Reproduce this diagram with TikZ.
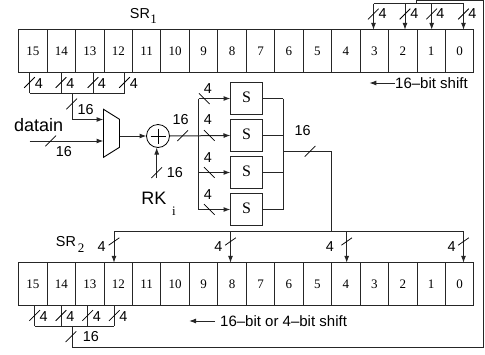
\documentclass[tikz,border=0pt]{standalone}
\usepackage{fontspec}
\setmainfont{Liberation Serif}
\setsansfont{Liberation Sans}
\usetikzlibrary{arrows.meta}
\tikzset{
  wire/.style={line width=1pt,draw=black!85},
  arr/.style={wire,-{Latex[length=7pt,width=5pt]}},
  cell/.style={draw=black!85,line width=1pt,minimum width=28.45pt,minimum height=42.3pt,inner sep=0pt,outer sep=0pt,font=\fontsize{13}{14}\selectfont},
  sbox/.style={draw=black!85,line width=1pt,minimum width=32pt,minimum height=32pt,inner sep=0pt,outer sep=0pt,font=\fontsize{16}{18}\selectfont},
  lab/.style={inner sep=0pt,font=\sffamily\fontsize{14.4}{16}\selectfont},
  biglab/.style={inner sep=0pt,font=\sffamily\fontsize{18}{20}\selectfont},
  srlab/.style={inner sep=0pt,font=\sffamily\fontsize{14.4}{16}\selectfont},
  shiftlab/.style={inner sep=0pt,anchor=west,font=\sffamily\fontsize{15}{17}\selectfont},
  sub/.style={inner sep=0pt,font=\fontsize{13}{15}\selectfont},
  xorc/.style={circle,draw=black,line width=0.8pt,minimum size=23pt,inner sep=0pt,outer sep=0pt},
  muxs/.style={draw=black,line width=0.9pt,line join=miter},
  slashmark/.style={line width=0.75pt,draw=black}
}
\newcommand{\fw}[2]{\draw[slashmark] (#1-5.3,#2+5.3) -- (#1+5.3,#2-5.3);}
\newcommand{\fl}[2]{\draw[slashmark] (#1-5.3,#2+3.7) -- (#1+5.3,#2-3.7);}
\newcommand{\bw}[2]{\draw[slashmark] (#1-5.3,#2-5.3) -- (#1+5.3,#2+5.3);}
\begin{document}
\begin{tikzpicture}[x=1pt,y=-1pt]
\useasboundingbox (0,0) rectangle (485,354);
% registers
\foreach \i in {0,...,15}{
  \node[cell] (a\i) at ({18.7+(15-\i+0.5)*28.45},51) {\i};
  \node[cell] (b\i) at ({18.7+(15-\i+0.5)*28.45},284) {\i};
}
% S boxes
\node[sbox] (s1) at (246.5,98.5) {\raisebox{3.5pt}{S}};
\node[sbox] (s2) at (246.5,135.5) {\raisebox{3.5pt}{S}};
\node[sbox] (s3) at (246.5,172.5) {\raisebox{3.5pt}{S}};
\node[sbox] (s4) at (246.5,209.5) {\raisebox{3.5pt}{S}};
% mux and xor
\draw[muxs] (103.5,109.3) -- (119.5,119.3) -- (119.5,147.3) -- (103.5,157.3) -- cycle;
\coordinate (mout) at (119.5,136);
\coordinate (min1) at (103.5,119.5);
\coordinate (min2) at (103.5,141);
\node[xorc] (x) at (158,136) {};
\draw[line width=0.6pt] (x.west)++(4,0) -- ++(15,0);
\draw[line width=0.6pt] (x.north)++(0,4) -- ++(0,15);
% SR1 top feedback
\coordinate (t0) at (463.5,3.5);
\coordinate (t1) at (431.7,3.5);
\coordinate (t2) at (405,3.5);
\coordinate (t3) at (373.5,3.5);
\coordinate (tapin) at (416,3.5);
\coordinate (topc) at (416,0);
\coordinate (rtc) at (483,0);
\coordinate (rbc) at (483,347);
\coordinate (lbc) at (72,347);
\coordinate (lbt) at (72,326);
\draw[wire] (t3) -- (t0);
\foreach \c/\n in {t0/a0,t1/a1,t2/a2,t3/a3} \draw[arr] (\c) -- (\c |- \n.north);
% return path from SR2 to SR1
\draw[wire] (lbt) -- (lbc) -- (rbc) -- (rtc) -- (topc) -- (tapin);
% SR1 lower taps
\coordinate (u15) at (29.5,93);
\coordinate (u14) at (61,93);
\coordinate (u13) at (93,93);
\coordinate (u12) at (124.5,93);
\coordinate (ujoin) at (72,93);
\draw[wire] (u15) -- (u12);
\draw[wire] (u15 |- a15.south) -- (u15);
\draw[wire] (u14 |- a14.south) -- (u14);
\draw[wire] (u13 |- a13.south) -- (u13);
\draw[wire] (u12 |- a12.south) -- (u12);
\draw[arr] (ujoin) |- (min1);
\coordinate (din) at (29.5,141);
\draw[arr] (din) -- (min2);
\draw[arr] (mout) -- (x.west);
\coordinate (rk) at (156.7,178);
\draw[arr] (rk) -- (rk |- x.south);
% S box bus
\coordinate (bus1) at (198.7,98.5);
\coordinate (bus4) at (198.7,209.5);
\draw[wire] (bus1) -- (bus4);
\draw[arr] (bus1) -- (s1.west);
\draw[arr] (x.east) -- (s2.west);
\draw[arr] (bus1 |- s3.west) -- (s3.west);
\draw[arr] (bus4) -- (s4.west);
% S box outputs
\coordinate (obus) at (283.3,98.5);
\coordinate (obus4) at (283.3,209.5);
\draw[wire] (obus) -- (obus4);
\draw[wire] (s1.east) -- (obus);
\draw[wire] (s2.east) -- (s2.east -| obus);
\draw[wire] (s3.east) -- (s3.east -| obus);
\draw[wire] (s4.east) -- (obus4);
\coordinate (oout) at (283.3,151.3);
\coordinate (down) at (331,231);
\draw[wire] (oout) -| (down);
% SR2 top distribution
\coordinate (d12) at (114,231);
\coordinate (d8) at (230.5,231);
\coordinate (d4) at (346.7,231);
\coordinate (d0) at (463.5,231);
\draw[wire] (d12) -- (d0);
\foreach \c/\n in {d12/b12,d8/b8,d4/b4,d0/b0} \draw[arr] (\c) -- (\c |- \n.north);
% SR2 lower taps
\coordinate (v15) at (34.7,326);
\coordinate (v14) at (61,326);
\coordinate (v13) at (87.7,326);
\coordinate (v12) at (114.3,326);
\draw[wire] (v15) -- (v12);
\draw[wire] (v15 |- b15.south) -- (v15);
\draw[wire] (v14 |- b14.south) -- (v14);
\draw[wire] (v13 |- b13.south) -- (v13);
\draw[wire] (v12 |- b12.south) -- (v12);
% slashes
\foreach \p/\q in {373.3/14,405/14,431.7/14,463.5/14,
  29.5/82.5,61/82.5,93/82.5,124.5/82.5,
  71.7/104,50.7/141,182.7/135.7,156.7/172.7,310/151.3,
  34.7/315.5,61/315.5,87.7/315.5,114.3/315.5,71/336.7}{\fw{\p}{\q}}
\foreach \p/\q in {114/241.5,230.5/241.5,346.7/241.5,463.5/241.5}{\fl{\p}{\q}}
\foreach \p/\q in {204.3/98.7,209.3/135.5,209.3/172.5,209.3/209.5}{\bw{\p}{\q}}
% labels
\node[srlab] (sr1) at (140,14) {SR};
\node[sub] (sr1s) at (153.5,19.5) {1};
\node[srlab] (sr2) at (66,241.5) {SR};
\node[sub] (sr2s) at (81,248) {2};
\foreach \n/\p/\q in {t3l/382.7/14,t2l/414.3/14,t1l/440.3/14,t0l/472.3/14,
  u15l/39/83.5,u14l/70.5/83.5,u13l/102/83.5,u12l/134/83.5,
  b1l/208/88.3,b2l/208/120,b3l/208/157.5,b4l/208/194.5,
  d12l/101.7/246.3,d8l/218.3/246.3,d4l/330/246.3,d0l/451.7/246.3,
  v15l/43.7/316.7,v14l/70.3/316.7,v13l/97/316.7,v12l/123.3/316.7}
  {\node[lab] (\n) at (\p,\q) {4};}
\foreach \n/\p/\q in {s16a/85.7/110,s16b/64/151.7,s16c/180.7/120,s16d/175/172.7,s16e/302.7/131,s16f/91/337}
  {\node[lab] (\n) at (\p,\q) {16};}
\node[biglab] (datain) at (38.7,125) {datain};
\node[biglab] (rkl) at (154,198) {RK};
\node[sub] (il) at (174,211) {i};
% shift notes
\node[shiftlab] (sh1) at (395,83) {16--bit shift};
\coordinate (sh1e) at (369.3,83);
\draw[arr] (sh1.west) -- (sh1e);
\node[shiftlab] (sh2) at (220,321) {16--bit or 4--bit shift};
\coordinate (sh2e) at (189,321);
\draw[arr] ([xshift=-5pt]sh2.west) -- (sh2e);
\end{tikzpicture}
\end{document}
